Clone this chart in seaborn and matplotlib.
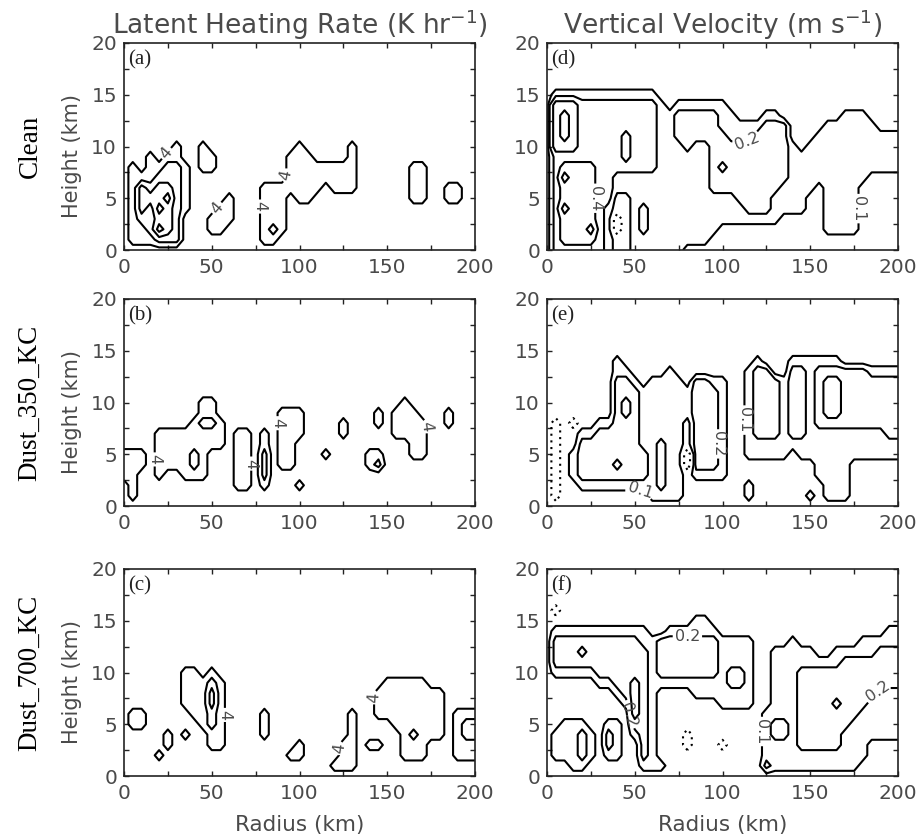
import numpy as np
import matplotlib
matplotlib.use("Agg")
import matplotlib.pyplot as plt
from matplotlib.ticker import MultipleLocator
import seaborn as sns

# model grid: radius every 5 km, height every 1 km
radius_km = np.arange(0, 201, 5)
height_km = np.arange(0, 21, 1)

# contour classes (first row = 20 km, last row = 0 km)
# latent heating: 0 <4, 1 4-8, 2 8-12, 3 12-16, 4 >16 K/hr
heat_levels = [4, 8, 12, 16]
heat_class = {"0": 2, "1": 6, "2": 10, "3": 14, "4": 18}
# vertical velocity: - <-0.1, 0 -0.1..0.1, 1 0.1-0.2, 2 0.2-0.4, 3 0.4-0.8, 4 >0.8 m/s
wind_levels = [-0.1, 0.1, 0.2, 0.4, 0.8]
wind_class = {"-": -0.25, "0": 0.05, "1": 0.15, "2": 0.25, "3": 0.55, "4": 1.05}

EMPTY = "00000 00000 00000 00000 00000 00000 00000 00000 0"

heat_clean = [EMPTY] * 10 + [
    "00000 01001 00000 00000 10000 01000 00000 00000 0",
    "00010 11001 10000 00001 11000 01000 00000 00000 0",
    "01011 22101 10000 00001 11111 11000 00011 00000 0",
    "01112 22100 00000 00001 11111 11000 00011 00000 0",
    "01323 32100 00000 01111 11101 11000 00011 00110 0",
    "01333 42100 00100 01110 11000 00000 00011 00110 0",
    "01324 32100 01100 01110 00000 00000 00000 00000 0",
    "01223 32000 11100 01110 00000 00000 00000 00000 0",
    "01124 32000 11000 01210 00000 00000 00000 00000 0",
    "01112 22000 00000 01100 00000 00000 00000 00000 0",
    EMPTY,
]

heat_dust350 = [EMPTY] * 10 + [
    "00000 00001 10000 00000 00000 00000 00100 00000 0",
    "00000 00001 10000 00011 10000 00001 01110 00100 0",
    "00000 00012 21000 00011 10000 10001 01111 00100 0",
    "00001 11111 11011 01011 10000 10000 01111 00000 0",
    "00001 11111 11011 01011 00000 00000 00011 00000 0",
    "11101 11121 00011 02011 00010 00011 00011 00000 0",
    "11101 11121 00011 02011 00000 00012 00000 00000 0",
    "11001 00111 00011 02000 00000 00000 00000 00000 0",
    "01000 00000 00011 01000 10000 00000 00000 00000 0",
    "01000 00000 00000 00000 00000 00000 00000 00000 0",
    EMPTY,
]

heat_dust700 = [EMPTY] * 10 + [
    "00000 00110 10000 00000 00000 00000 00000 00000 0",
    "00000 00111 21000 00000 00000 00000 11111 00000 0",
    "00000 00111 31000 00000 00000 00001 11111 11000 0",
    "00000 00111 31000 00000 00000 00001 11111 11000 0",
    "01100 00011 21000 01000 00000 01001 11111 11011 1",
    "01100 00001 21000 01000 00000 01000 01111 11012 2",
    "00000 10100 11000 01000 00000 01000 00121 11012 2",
    "00000 10000 11000 00000 10000 11011 00111 00011 1",
    "00001 00000 00000 00001 10000 11000 00111 00011 1",
    "00000 00000 00000 00000 00001 11000 00000 00000 0",
    EMPTY,
]

wind_clean = [EMPTY] * 5 + [
    "01111 11111 11100 00000 00000 00000 00000 00000 0",
    "03332 22222 22210 11111 10000 00000 00000 00000 0",
    "03432 22222 22211 22222 11000 11000 00001 11000 0",
    "03432 22222 22211 22222 11111 22200 00111 11100 0",
    "03432 22223 22211 22222 21112 22200 01111 11111 1",
    "03332 22223 22211 12112 22222 22210 11111 11111 1",
    "02222 22223 22211 11112 22222 22211 11111 11111 1",
    "02333 32222 22211 11112 32222 22211 11111 11111 1",
    "02433 32211 11111 11112 22222 22211 11111 11000 0",
    "02333 32211 11111 11112 22222 22111 10111 10000 0",
    "02333 32200 11111 11111 11222 21111 00111 10000 0",
    "02433 32100 12111 11111 11122 21111 00111 10000 0",
    "02333 321-0 12111 11111 11111 11000 00111 10000 0",
    "02333 421-0 12111 11111 00000 00000 00111 10000 0",
    "02333 32100 11111 11110 00000 00000 00000 00000 0",
    "02222 22100 11111 10000 00000 00000 00000 00000 0",
]

wind_dust350 = [EMPTY] * 6 + [
    "00000 00010 00000 00000 00001 00011 11110 00000 0",
    "00000 00011 00001 00000 00012 20022 12222 22111 1",
    "00000 00022 10111 10221 10012 22122 12332 22222 2",
    "00000 00022 21111 11222 10012 22122 12332 22222 2",
    "00000 00023 21111 11222 10012 22122 12332 22222 2",
    "00000 00023 21111 11222 10012 22122 12332 22222 2",
    "0-0-0 01122 21111 10222 10012 22122 12222 22222 2",
    "0-001 12222 21111 10222 10012 22122 11111 11112 2",
    "0-002 22222 21121 10222 10011 11111 11111 11111 1",
    "0-012 22222 22121 1-222 10011 11101 11111 11111 1",
    "0-012 22232 22121 1-222 10000 00000 01111 00000 0",
    "0-012 22222 22121 10111 10000 00000 01111 00000 0",
    "0-001 11111 11121 10000 00010 00000 00111 00000 0",
    "0-000 00000 00111 10000 00010 00000 10111 00000 0",
    EMPTY,
]

wind_dust700 = [EMPTY] * 4 + [
    "0-000 00000 00000 00000 00000 00000 00000 00000 0",
    "00000 00000 00000 00110 00000 00000 00000 00000 0",
    "01111 11111 11001 11111 00000 00000 00000 00001 1",
    "02222 22222 21122 22222 11110 00010 00000 01111 1",
    "02223 22222 22122 22222 11110 01111 10011 11122 2",
    "02222 22222 22122 22222 11110 01111 11112 22222 2",
    "01111 12222 22122 22222 12210 01112 22222 22222 2",
    "00000 01122 32111 11111 12210 01112 22222 22222 2",
    "00000 00012 32100 00111 11110 01112 22222 22211 1",
    "00000 00001 32100 00000 11110 01112 22232 22111 1",
    "00000 00000 32100 00000 00000 11112 22222 21111 1",
    "00111 00110 22100 00000 00000 12212 22222 11111 1",
    "01112 10210 12100 0-000 00000 12212 22221 11111 1",
    "01112 10210 02100 0-000 -0000 11112 22221 11000 0",
    "01112 10110 02100 00000 00000 11111 11111 11000 0",
    "00011 00000 01110 00000 00000 21111 11111 10000 0",
    EMPTY,
]

# where the contour values are written on the lines (level -> spots)
heat_clean_tags = {4: [(21, 9.8), (52, 4.2), (78, 4.2), (94.5, 7.2)]}
heat_dust350_tags = {4: [(15, 4.5), (73, 4.1), (84, 8.0), (173, 7.7)]}
heat_dust700_tags = {4: [(56.5, 5.9), (122, 2.7), (141, 7.6)]}
wind_clean_tags = {0.4: [(18, 5.0)], 0.2: [(114, 10.5)], 0.1: [(172, 4.0)]}
wind_dust350_tags = {0.1: [(53, 1.5), (116, 8.3)], 0.2: [(100, 6.0)]}
wind_dust700_tags = {0.2: [(80, 13.3), (40, 5.5), (184, 8.8)], 0.1: [(122, 4.3)]}

run_names = ["Clean", "Dust_350_KC", "Dust_700_KC"]
col_titles = ["Latent Heating Rate (K hr$^{-1}$)", "Vertical Velocity (m s$^{-1}$)"]

sns.set_style("ticks")
plt.rcParams["font.family"] = ["DejaVu Sans"]
plt.rcParams["mathtext.fontset"] = "dejavusans"

GREY = "#4a4a4a"


def to_grid(rows, table):
    cells = [[table[c] for c in r.replace(" ", "")] for r in rows]
    for r in cells:
        assert len(r) == len(radius_km), len(r)
    assert len(cells) == len(height_km), len(cells)
    return np.array(cells[::-1], dtype=float)


def draw_panel(ax, rows, table, levels, tag, spots):
    grid = to_grid(rows, table)
    # one contour set per level so each level can carry its own labels
    for lev in levels:
        style = (0, (1, 2.2)) if lev < 0 else "solid"
        cs = ax.contour(radius_km, height_km, grid, levels=[lev], colors="black",
                        linewidths=1.5, linestyles=[style])
        if lev in spots:
            ax.clabel(cs, manual=spots[lev], inline=True, fmt="%g",
                      fontsize=11.5, colors=GREY, inline_spacing=2)
    ax.set_xlim(0, 200)
    ax.set_ylim(0, 20)
    ax.xaxis.set_major_locator(MultipleLocator(50))
    ax.xaxis.set_minor_locator(MultipleLocator(25))
    ax.yaxis.set_major_locator(MultipleLocator(5))
    ax.yaxis.set_minor_locator(MultipleLocator(2.5))
    ax.tick_params(which="both", direction="in", length=3.5, width=1,
                   top=True, right=True, color="#222222")
    ax.tick_params(axis="x", labelsize=14.5, labelcolor=GREY, pad=6)
    ax.tick_params(axis="y", labelsize=14.5, labelcolor=GREY, pad=5)
    for s in ax.spines.values():
        s.set_linewidth(1.2)
        s.set_color("#222222")
    ax.text(0.012, 0.965, tag, transform=ax.transAxes, ha="left", va="top",
            fontsize=15, family="Liberation Serif", color="#222222")


fig = plt.figure(figsize=(9.16, 8.39), dpi=100)

col_left = [124 / 916, 547 / 916]
col_width = 351 / 916
row_bottom = [1 - 250 / 839, 1 - 506 / 839, 1 - 776 / 839]
row_height = 207 / 839

panels = [
    (0, 0, heat_clean, heat_class, heat_levels, "(a)", heat_clean_tags),
    (1, 0, heat_dust350, heat_class, heat_levels, "(b)", heat_dust350_tags),
    (2, 0, heat_dust700, heat_class, heat_levels, "(c)", heat_dust700_tags),
    (0, 1, wind_clean, wind_class, wind_levels, "(d)", wind_clean_tags),
    (1, 1, wind_dust350, wind_class, wind_levels, "(e)", wind_dust350_tags),
    (2, 1, wind_dust700, wind_class, wind_levels, "(f)", wind_dust700_tags),
]

for r, c, rows, table, levels, tag, spots in panels:
    ax = fig.add_axes([col_left[c], row_bottom[r], col_width, row_height])
    draw_panel(ax, rows, table, levels, tag, spots)

for c, title in enumerate(col_titles):
    fig.text(col_left[c] + col_width / 2, 1 - 25 / 839, title, ha="center",
             va="center", fontsize=19, color=GREY)
    fig.text(col_left[c] + col_width / 2, 1 - 825 / 839, "Radius (km)",
             ha="center", va="center", fontsize=15.5, color=GREY)

for r, name in enumerate(run_names):
    yc = row_bottom[r] + row_height / 2
    fig.text(30 / 916, yc, name, rotation=90, ha="center", va="center",
             fontsize=19.5, family="Liberation Serif", color="black")
    fig.text(72 / 916, yc - 10 / 839, "Height (km)", rotation=90, ha="center",
             va="center", fontsize=15, color=GREY)

fig.savefig("out.png", dpi=100, facecolor="white")
